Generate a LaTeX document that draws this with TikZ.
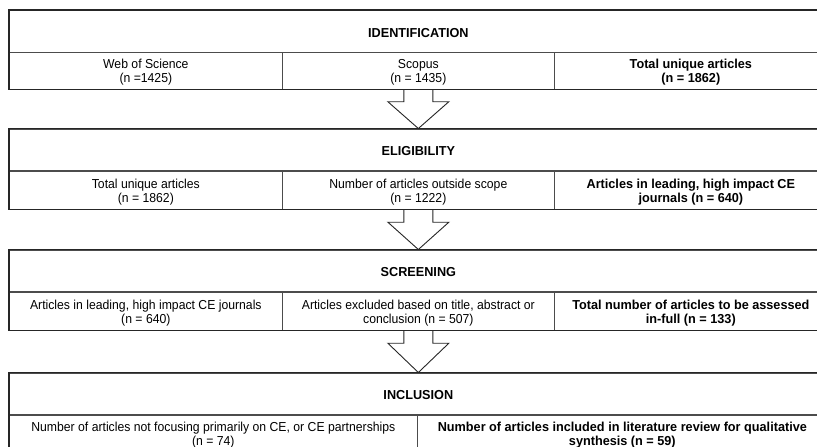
\documentclass[tikz,border=0pt]{standalone}
\usepackage{fontspec}
\setmainfont{Liberation Sans}[FakeStretch=0.94]
\newfontfamily\boldsans{Liberation Sans Bold}[FakeStretch=0.975]
\usetikzlibrary{calc}
\newcommand{\topstrut}{\rule{0pt}{12.5pt}}
\newcommand{\hdrstrut}{\rule{0pt}{12pt}}
\begin{document}
\begin{tikzpicture}[x=1pt,y=-1pt,
  cellbox/.style={draw=black!70, line width=0.7pt, anchor=north west, inner sep=0pt, align=center,
    minimum height=37.5, font=\fontsize{13}{14}\selectfont},
  boldcell/.style={cellbox, font=\fontsize{13}{14}\boldsans},
  hdrbox/.style={cellbox, minimum width=818, minimum height=41.5, font=\fontsize{13}{14}\boldsans},
  frame/.style={draw=black!85, line width=1.3pt},
  blockarr/.style={draw=black!85, line width=0.9pt, line join=miter}]
\useasboundingbox (0,0) rectangle (817,447);
\clip (0,0) rectangle (817,447);
\fill[white] (0,0) rectangle (817,447);

\newcommand{\blockarrow}[3]{%
  \draw[blockarr] ($(#1.south)+(-14.5,0)$) -- ++(0,#3) -- ++(-16,0) -- (#2.north)
    -- ($(#1.south)+(30.5,#3)$) -- ++(-16,0) -- ($(#1.south)+(14.5,0)$);}

% IDENTIFICATION
\node[hdrbox] (h1) at (9,10) {\hdrstrut IDENTIFICATION};
\node[cellbox, minimum width=273] (a1) at (9,51.5) {\topstrut Web of Science\\(n =1425)};
\node[cellbox, minimum width=272] (b1) at (282,51.5) {\topstrut Scopus\\(n = 1435)};
\node[boldcell, minimum width=273] (c1) at (554,51.5) {\topstrut Total unique articles\\(n = 1862)};
\draw[frame] (h1.north west) rectangle (c1.south east);

% ELIGIBILITY
\node[hdrbox] (h2) at (9,128.5) {\hdrstrut ELIGIBILITY};
\node[cellbox, minimum width=273] (a2) at (9,171) {\topstrut Total unique articles\\(n = 1862)};
\node[cellbox, minimum width=272] (b2) at (282,171) {\topstrut Number of articles outside scope\\(n = 1222)};
\node[boldcell, minimum width=273] (c2) at (554,171) {\topstrut Articles in leading, high impact CE\\journals (n = 640)};
\draw[frame] (h2.north west) rectangle (c2.south east);

% SCREENING
\node[hdrbox] (h3) at (9,249.5) {\hdrstrut SCREENING};
\node[cellbox, minimum width=273] (a3) at (9,292) {\topstrut Articles in leading, high impact CE journals\\(n = 640)};
\node[cellbox, minimum width=272] (b3) at (282,292) {\topstrut Articles excluded based on title, abstract or\\conclusion (n = 507)};
\node[boldcell, minimum width=273] (c3) at (554,292) {\topstrut Total number of articles to be assessed\\in-full (n = 133)};
\draw[frame] (h3.north west) rectangle (c3.south east);

% INCLUSION
\node[hdrbox] (h4) at (9,372.5) {\hdrstrut INCLUSION};
\node[cellbox, minimum width=408] (a4) at (9,414.5) {\topstrut Number of articles not focusing primarily on CE, or CE partnerships\\(n = 74)};
\node[boldcell, minimum width=410] (b4) at (417,414.5) {\topstrut Number of articles included in literature review for qualitative\\synthesis (n = 59)};
\draw[frame] (h4.north west) rectangle (b4.south east);

% block arrows
\blockarrow{b1}{h2}{12}
\blockarrow{b2}{h3}{13}
\blockarrow{b3}{h4}{13}
\end{tikzpicture}
\end{document}
